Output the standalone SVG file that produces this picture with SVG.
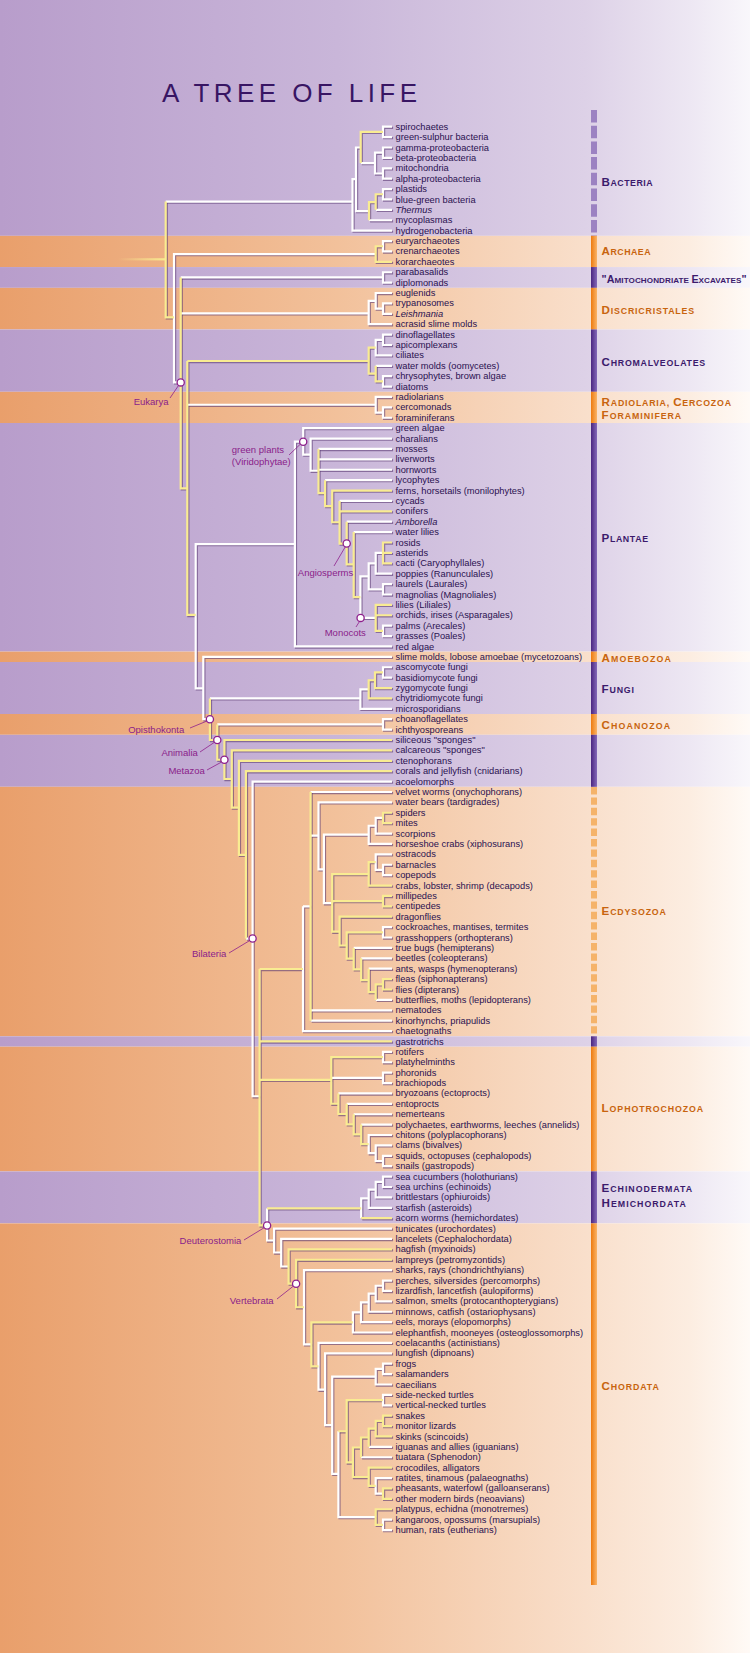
<svg xmlns="http://www.w3.org/2000/svg" xmlns:xlink="http://www.w3.org/1999/xlink" width="750" height="1653" viewBox="0 0 750 1653">
<style>
.lf text{font-family:"Liberation Sans",Arial,sans-serif;font-size:9.3px;fill:#2a1150}
.it{font-style:italic}
.an{font-family:"Liberation Sans",Arial,sans-serif;font-size:9.5px;fill:#8a1d8a}
.sec{font-family:"Liberation Sans",Arial,sans-serif;font-weight:bold;font-size:8.8px}
.sec .b{font-size:11.6px}
.sec.sm{font-size:8.1px}
.sec.sm .b{font-size:10.7px}
.sp{fill:#3b1a6c}
.so{fill:#c8640e}
.ttl{font-family:"Liberation Sans",Arial,sans-serif;font-size:26px;fill:#381563}
.nc{fill:#fff;stroke:#8e1f8c;stroke-width:1.3}
.al{stroke:#8e1f8c;stroke-width:0.8;fill:none}
.bp{fill:url(#gBP)}
.bo{fill:url(#gBO)}
</style>
<defs>
<linearGradient id="gP" gradientUnits="userSpaceOnUse" x1="0" y1="0" x2="750" y2="0">
<stop offset="0" stop-color="#b89dcb"/><stop offset="0.45" stop-color="#c9b6d9"/><stop offset="0.78" stop-color="#ddd1e7"/><stop offset="0.92" stop-color="#ede7f3"/><stop offset="1" stop-color="#f9f7fb"/>
</linearGradient>
<linearGradient id="gO" gradientUnits="userSpaceOnUse" x1="0" y1="0" x2="750" y2="0">
<stop offset="0" stop-color="#e99f6b"/><stop offset="0.45" stop-color="#f2c19b"/><stop offset="0.78" stop-color="#f9dfcb"/><stop offset="0.92" stop-color="#fcede1"/><stop offset="1" stop-color="#fffaf6"/>
</linearGradient>
<linearGradient id="gBP" x1="0" y1="0" x2="1" y2="0"><stop offset="0" stop-color="#4a2580"/><stop offset="1" stop-color="#8468b8"/></linearGradient>
<linearGradient id="gBO" x1="0" y1="0" x2="1" y2="0"><stop offset="0" stop-color="#ee7a0e"/><stop offset="1" stop-color="#f9b468"/></linearGradient>
<linearGradient id="gRoot" gradientUnits="userSpaceOnUse" x1="118" y1="0" x2="166" y2="0"><stop offset="0" stop-color="#f8eb8f" stop-opacity="0"/><stop offset="1" stop-color="#f8eb8f"/></linearGradient>
<g id="W" transform="matrix(1 0 0 10.395 0 116.305)">
<path vector-effect="non-scaling-stroke" d="M165.7 8.2H352.5M375.7 13.25H174V25.6H180.7M180.7 15.5H383M180.7 18.95H368.7M187.3 27.75H375.7M294.9 41.15H195.7V55.03H203.3M392 52H203.3V58H209.9M209.9 56H360.4M217.3 58.5H383M245.9 79.1H252.6M392 64H252.6V94.27H259.6M267.1 105.06V108.15H274.1"/>
<path vector-effect="non-scaling-stroke" d="M392 11H352.5V6.05H356M360.7 3H356V9.125H369M360.7 4.5H375M383 3.5H375V5.5H383M392 3H383V4H392M392 5H383V6H392M392 1H383V2H392M392 10H369M392 9H375.7M392 7H383V8H392"/>
<path vector-effect="non-scaling-stroke" d="M392 12H383V13H392M392 15H383V16H392M392 18H383V19H392M392 17H375.7V18.5H383M375.7 17.75H368.7V20H392M392 21H383V22H392M392 23H375.7V21.5H383M392 24H375.7M392 25H383V26H392M392 27H375.7V28.5H383M392 28H383V29H392"/>
<path vector-effect="non-scaling-stroke" d="M303.2 31.3H294.9V51H392M392 30H303.2V32.55H310.6M392 31H310.6V34.1H318.5M318.5 32H392M318.5 33H392M318.5 34H392M392 35H325.1M392 37H339.6M392 39H346.7M392 40H353.7M368.7 44.25H360.4V48.25H375.7M375.7 43H368.7V45.5H383M383 42H375.7V44H392M392 45H383V46H392M392 49H383V50H392"/>
<path vector-effect="non-scaling-stroke" d="M392 57H360.4V55.125H368.7M392 53H383V54H392M392 58H383V59H392"/>
<path vector-effect="non-scaling-stroke" d="M303 76V88H392M303 76H310.6M392 65H310.6M310.6 86H392M310.6 87H392M392 66H318.5V72.45H323.9M310.6 69.2H318.5M368.7 69.1H323.9V75.7H332.2M392 70H368.7V68.25H375.7M392 69H375.7V67.5H383M392 71H375.7V72.5H383M392 72H383V73H392M392 78H383V79H392M392 80H353.7M392 81H361.2M392 82H368.7M392 85H375.7"/>
<path vector-effect="non-scaling-stroke" d="M331.3 92.5H383M392 90H383V91H392M392 92H383V93H392M392 94H338.4M392 95H346.7M392 96H353.7M392 97H361.2M392 98H368.7V99.75H375.7M392 99H375.7V100.5H383M392 100H383V101H392M392 102H383V103H392M392 104H375.7V102.5H383M392 105H368.7V103.25H375.7M368.7 104.1H361.2V106"/>
<path vector-effect="non-scaling-stroke" d="M392 107H274.1V109.3H281.2M392 108H281.2V110.65H288.6M392 111H304V118.14H311.4M392 117H352.9V115.06H361M392 116H361V114.1H368.7M392 115H368.7V113.25H375.7M392 114H375.7V112.5H383M392 112H383V113H392M392 118H318.5V122.5H325.1M392 119H325.1V125.9H332.2M375.7 121.25H332.2V130.6H338.4M392 122H375.7V120.5H383M392 120H383V121H392M375.7 134.75H338.4V126.5M392 123H383V124H392M392 129H361M392 128H368.7M392 131H375.7V132.5H383M392 135H383V136H392"/>
</g>
<g id="Y" transform="matrix(1 0 0 10.395 0 116.305)">
<path vector-effect="non-scaling-stroke" d="M165.7 8.2V19.34H174M180.7 15.5V35.79H187.3M187.3 23.54V47.97H195.7M187.3 23.54H368.7M209.9 56V60H217.3M217.3 58.5V61.9H224.4M392 60H224.4V63.75H231.8M392 61H231.8V66.5H238.9M392 62H238.9V71.05H245.9M392 63H245.9V79.1M259.6 82.03V106.7H267.1M259.6 82.03H303M259.6 89H392M259.6 92.7H331.3M267.1 105.06H361.2"/>
<path vector-effect="non-scaling-stroke" d="M383 1.5H360.7V4.5M375.7 8.25H369V10M383 7.5H375.7V9M383 12.5H375.7V14H392M383 25.5H375.7V24M375.7 22.25H368.7V24.75H375.7"/>
<path vector-effect="non-scaling-stroke" d="M318.5 32V36.25H325.1M325.1 35V37.5H332.2M392 36H332.2V39.05H339.6M339.6 37V41.1H346.7M339.6 38H392M346.7 39V43.1H353.7M353.7 40V46.25H360.4M392 41H383V43H392M383 42H392M392 47H375.7V49.5H383M375.7 48H392M375 54.25H368.7V56H392M383 53.5H375V55H392"/>
<path vector-effect="non-scaling-stroke" d="M310.6 65V87M392 67H383V68H392M368.7 72.9H332.2V78.44H339.6M332.2 75.5H383M375.7 71.75H368.7V74H392M392 75H383V76H392M392 77H339.6V79.77H346.7M383 78.5H346.7V81.03H353.7M353.7 80V82.06H361.2M361.2 81V83.1H368.7M368.7 82V84.25H375.7M375.7 85V83.5H383M392 83H383V84H392"/>
<path vector-effect="non-scaling-stroke" d="M383 90.5H331.3V94.99H338.4M338.4 94V95.98H346.7M346.7 95V96.97H353.7M353.7 96V97.94H361.2M361.2 97V98.875H368.7M361.2 106H392"/>
<path vector-effect="non-scaling-stroke" d="M392 109H288.6V112.3H296.1M392 110H296.1V114.57H304M352.9 116.03H311.4V120.25H318.5M338.4 126.5H346.7M383 123.5H346.7V129.5H352.9M361 128.06H352.9V130.9H368.7M361 129V127.1H368.7M368.7 128V126.25H375.7M392 127H375.7V125.5H383M392 125H383V126H392M392 130H368.7V131.75H375.7M392 132H383V133H392M392 134H375.7V135.5H383"/>
</g>
</defs>

<g id="background">
<rect x="0" y="0" width="750" height="235.85" fill="url(#gP)"/>
<rect x="0" y="235.85" width="750" height="31.2" fill="url(#gO)"/>
<rect x="0" y="267.05" width="750" height="20.8" fill="url(#gP)"/>
<rect x="0" y="287.85" width="750" height="41.6" fill="url(#gO)"/>
<rect x="0" y="329.45" width="750" height="62.35" fill="url(#gP)"/>
<rect x="0" y="391.8" width="750" height="31.2" fill="url(#gO)"/>
<rect x="0" y="423" width="750" height="228.6" fill="url(#gP)"/>
<rect x="0" y="651.6" width="750" height="10.4" fill="url(#gO)"/>
<rect x="0" y="662" width="750" height="52" fill="url(#gP)"/>
<rect x="0" y="714" width="750" height="20.8" fill="url(#gO)"/>
<rect x="0" y="734.8" width="750" height="52" fill="url(#gP)"/>
<rect x="0" y="786.8" width="750" height="249.5" fill="url(#gO)"/>
<rect x="0" y="1036.3" width="750" height="10.4" fill="url(#gP)"/>
<rect x="0" y="1046.7" width="750" height="124.7" fill="url(#gO)"/>
<rect x="0" y="1171.4" width="750" height="52" fill="url(#gP)"/>
<rect x="0" y="1223.4" width="750" height="429.6" fill="url(#gO)"/>
</g>

<g id="title"><text class="ttl" x="162" y="101.7" textLength="255" lengthAdjust="spacing">A TREE OF LIFE</text></g>

<g id="bars">
<line x1="594" y1="110" x2="594" y2="236" stroke="#9c82c2" stroke-width="6" stroke-dasharray="12.5 3.2"/>
<rect class="bo" x="591" y="235.85" width="6" height="31.2"/>
<rect class="bp" x="591" y="267.05" width="6" height="20.8"/>
<rect class="bo" x="591" y="287.85" width="6" height="41.6"/>
<rect class="bp" x="591" y="329.45" width="6" height="62.35"/>
<rect class="bo" x="591" y="391.8" width="6" height="31.2"/>
<rect class="bp" x="591" y="423" width="6" height="228.6"/>
<rect class="bo" x="591" y="651.6" width="6" height="10.4"/>
<rect class="bp" x="591" y="662" width="6" height="52"/>
<rect class="bo" x="591" y="714" width="6" height="20.8"/>
<rect class="bp" x="591" y="734.8" width="6" height="52"/>
<line x1="594" y1="787" x2="594" y2="1036.3" stroke="#f5b36a" stroke-width="6" stroke-dasharray="7.4 3"/>
<rect class="bp" x="591" y="1036.3" width="6" height="10.4"/>
<rect class="bo" x="591" y="1046.7" width="6" height="124.7"/>
<rect class="bp" x="591" y="1171.4" width="6" height="52"/>
<rect class="bo" x="591" y="1223.4" width="6" height="361.6"/>
</g>

<g id="connectors" fill="none" stroke-linejoin="miter">
<rect x="118" y="258.2" width="48" height="2.2" fill="url(#gRoot)"/>
<g transform="translate(1.1,1.1)" stroke="#5a3873" stroke-opacity="0.6" stroke-width="2.2">
<use xlink:href="#W" href="#W"/>
<use xlink:href="#Y" href="#Y"/>
</g>
<use xlink:href="#W" href="#W" stroke="#ffffff" stroke-width="2.2"/>
<use xlink:href="#Y" href="#Y" stroke="#f9ec92" stroke-width="2.2"/>
</g>

<g id="clade-markers">
<g id="n-eukarya"><line class="al" x1="170" y1="398" x2="178.5" y2="385.5"/><circle class="nc" cx="180.7" cy="382.4" r="3.6"/><text class="an" x="168.5" y="405" text-anchor="end">Eukarya</text></g>
<g id="n-greenplants"><line class="al" x1="289" y1="455" x2="300.5" y2="444"/><circle class="nc" cx="303.2" cy="441.7" r="3.6"/><text class="an" x="231.8" y="453.3">green plants</text><text class="an" x="231.8" y="465">(Viridophytae)</text></g>
<g id="n-angiosperms"><line class="al" x1="334" y1="566" x2="345.3" y2="546.8"/><circle class="nc" cx="346.7" cy="543.5" r="3.6"/><text class="an" x="297.8" y="575.6">Angiosperms</text></g>
<g id="n-monocots"><line class="al" x1="356" y1="627" x2="359.6" y2="621.3"/><circle class="nc" cx="360.6" cy="617.9" r="3.6"/><text class="an" x="324.7" y="636">Monocots</text></g>
<g id="n-opisthokonta"><line class="al" x1="190" y1="728" x2="207" y2="721"/><circle class="nc" cx="209.9" cy="719.2" r="3.6"/><text class="an" x="128.2" y="732.6">Opisthokonta</text></g>
<g id="n-animalia"><line class="al" x1="200" y1="752" x2="214.6" y2="742.2"/><circle class="nc" cx="217.3" cy="740" r="3.6"/><text class="an" x="161.4" y="756">Animalia</text></g>
<g id="n-metazoa"><line class="al" x1="207" y1="770" x2="221.6" y2="762"/><circle class="nc" cx="224.4" cy="759.8" r="3.6"/><text class="an" x="168.4" y="774">Metazoa</text></g>
<g id="n-bilateria"><line class="al" x1="229" y1="953" x2="249.8" y2="940.5"/><circle class="nc" cx="252.6" cy="938.5" r="3.6"/><text class="an" x="192" y="957.3">Bilateria</text></g>
<g id="n-deuterostomia"><line class="al" x1="244" y1="1240" x2="264.4" y2="1227.6"/><circle class="nc" cx="267.1" cy="1225.5" r="3.6"/><text class="an" x="179.6" y="1244.3">Deuterostomia</text></g>
<g id="n-vertebrata"><line class="al" x1="277" y1="1299" x2="293.5" y2="1286"/><circle class="nc" cx="296.1" cy="1283.7" r="3.6"/><text class="an" x="229.8" y="1304.3">Vertebrata</text></g>
</g>

<g id="sections">
<text class="sec sp" x="601.6" y="185.8" textLength="51" lengthAdjust="spacing"><tspan class="b">B</tspan>ACTERIA</text>
<text class="sec so" x="601.6" y="255.3" textLength="49" lengthAdjust="spacing"><tspan class="b">A</tspan>RCHAEA</text>
<text class="sec sm sp" x="601.6" y="283" textLength="145" lengthAdjust="spacing"><tspan class="b">"A</tspan>MITOCHONDRIATE <tspan class="b">E</tspan>XCAVATES<tspan class="b">"</tspan></text>
<text class="sec so" x="601.6" y="314.1" textLength="92.5" lengthAdjust="spacing"><tspan class="b">D</tspan>ISCRICRISTALES</text>
<text class="sec sp" x="601.6" y="365.8" textLength="103.6" lengthAdjust="spacing"><tspan class="b">C</tspan>HROMALVEOLATES</text>
<text class="sec so" x="601.6" y="406.4" textLength="129.4" lengthAdjust="spacing"><tspan class="b">R</tspan>ADIOLARIA, <tspan class="b">C</tspan>ERCOZOA</text>
<text class="sec so" x="601.6" y="418.8" textLength="79.6" lengthAdjust="spacing"><tspan class="b">F</tspan>ORAMINIFERA</text>
<text class="sec sp" x="601.6" y="542.1" textLength="46.4" lengthAdjust="spacing"><tspan class="b">P</tspan>LANTAE</text>
<text class="sec so" x="601.6" y="662.4" textLength="69.2" lengthAdjust="spacing"><tspan class="b">A</tspan>MOEBOZOA</text>
<text class="sec sp" x="601.6" y="693.4" textLength="32.3" lengthAdjust="spacing"><tspan class="b">F</tspan>UNGI</text>
<text class="sec so" x="601.6" y="729.1" textLength="68.4" lengthAdjust="spacing"><tspan class="b">C</tspan>HOANOZOA</text>
<text class="sec so" x="601.6" y="914.8" textLength="64.3" lengthAdjust="spacing"><tspan class="b">E</tspan>CDYSOZOA</text>
<text class="sec so" x="601.6" y="1111.8" textLength="101.6" lengthAdjust="spacing"><tspan class="b">L</tspan>OPHOTROCHOZOA</text>
<text class="sec sp" x="601.6" y="1192.4" textLength="90.4" lengthAdjust="spacing"><tspan class="b">E</tspan>CHINODERMATA</text>
<text class="sec sp" x="601.6" y="1207.4" textLength="84.2" lengthAdjust="spacing"><tspan class="b">H</tspan>EMICHORDATA</text>
<text class="sec so" x="601.6" y="1390.1" textLength="57.2" lengthAdjust="spacing"><tspan class="b">C</tspan>HORDATA</text>
</g>

<g id="leaves" class="lf">
<g id="leaves-bacteria">
<text x="395.5" y="129.7">spirochaetes</text>
<text x="395.5" y="140.1">green-sulphur bacteria</text>
<text x="395.5" y="150.5">gamma-proteobacteria</text>
<text x="395.5" y="160.9">beta-proteobacteria</text>
<text x="395.5" y="171.3">mitochondria</text>
<text x="395.5" y="181.7">alpha-proteobacteria</text>
<text x="395.5" y="192.1">plastids</text>
<text x="395.5" y="202.5">blue-green bacteria</text>
<text x="395.5" y="212.9" class="it">Thermus</text>
<text x="395.5" y="223.3">mycoplasmas</text>
<text x="395.5" y="233.6">hydrogenobacteria</text>
</g>
<g id="leaves-archaea">
<text x="395.5" y="244">euryarchaeotes</text>
<text x="395.5" y="254.4">crenarchaeotes</text>
<text x="395.5" y="264.8">korarchaeotes</text>
</g>
<g id="leaves-excavates">
<text x="395.5" y="275.2">parabasalids</text>
<text x="395.5" y="285.6">diplomonads</text>
</g>
<g id="leaves-discricristales">
<text x="395.5" y="296">euglenids</text>
<text x="395.5" y="306.4">trypanosomes</text>
<text x="395.5" y="316.8" class="it">Leishmania</text>
<text x="395.5" y="327.2">acrasid slime molds</text>
</g>
<g id="leaves-chromalveolates">
<text x="395.5" y="337.6">dinoflagellates</text>
<text x="395.5" y="348">apicomplexans</text>
<text x="395.5" y="358.4">ciliates</text>
<text x="395.5" y="368.8">water molds (oomycetes)</text>
<text x="395.5" y="379.2">chrysophytes, brown algae</text>
<text x="395.5" y="389.6">diatoms</text>
</g>
<g id="leaves-radiolaria">
<text x="395.5" y="400">radiolarians</text>
<text x="395.5" y="410.4">cercomonads</text>
<text x="395.5" y="420.8">foraminiferans</text>
</g>
<g id="leaves-plantae">
<text x="395.5" y="431.2">green algae</text>
<text x="395.5" y="441.5">charalians</text>
<text x="395.5" y="451.9">mosses</text>
<text x="395.5" y="462.3">liverworts</text>
<text x="395.5" y="472.7">hornworts</text>
<text x="395.5" y="483.1">lycophytes</text>
<text x="395.5" y="493.5">ferns, horsetails (monilophytes)</text>
<text x="395.5" y="503.9">cycads</text>
<text x="395.5" y="514.3">conifers</text>
<text x="395.5" y="524.7" class="it">Amborella</text>
<text x="395.5" y="535.1">water lilies</text>
<text x="395.5" y="545.5">rosids</text>
<text x="395.5" y="555.9">asterids</text>
<text x="395.5" y="566.3">cacti (Caryophyllales)</text>
<text x="395.5" y="576.7">poppies (Ranunculales)</text>
<text x="395.5" y="587.1">laurels (Laurales)</text>
<text x="395.5" y="597.5">magnolias (Magnoliales)</text>
<text x="395.5" y="607.9">lilies (Liliales)</text>
<text x="395.5" y="618.3">orchids, irises (Asparagales)</text>
<text x="395.5" y="628.7">palms (Arecales)</text>
<text x="395.5" y="639.1">grasses (Poales)</text>
<text x="395.5" y="649.5">red algae</text>
</g>
<g id="leaves-amoebozoa">
<text x="395.5" y="659.8">slime molds, lobose amoebae (mycetozoans)</text>
</g>
<g id="leaves-fungi">
<text x="395.5" y="670.2">ascomycote fungi</text>
<text x="395.5" y="680.6">basidiomycote fungi</text>
<text x="395.5" y="691">zygomycote fungi</text>
<text x="395.5" y="701.4">chytridiomycote fungi</text>
<text x="395.5" y="711.8">microsporidians</text>
</g>
<g id="leaves-choanozoa">
<text x="395.5" y="722.2">choanoflagellates</text>
<text x="395.5" y="732.6">ichthyosporeans</text>
</g>
<g id="leaves-basal-animals">
<text x="395.5" y="743">siliceous "sponges"</text>
<text x="395.5" y="753.4">calcareous "sponges"</text>
<text x="395.5" y="763.8">ctenophorans</text>
<text x="395.5" y="774.2">corals and jellyfish (cnidarians)</text>
<text x="395.5" y="784.6">acoelomorphs</text>
</g>
<g id="leaves-ecdysozoa">
<text x="395.5" y="795">velvet worms (onychophorans)</text>
<text x="395.5" y="805.4">water bears (tardigrades)</text>
<text x="395.5" y="815.8">spiders</text>
<text x="395.5" y="826.2">mites</text>
<text x="395.5" y="836.6">scorpions</text>
<text x="395.5" y="847">horseshoe crabs (xiphosurans)</text>
<text x="395.5" y="857.3">ostracods</text>
<text x="395.5" y="867.7">barnacles</text>
<text x="395.5" y="878.1">copepods</text>
<text x="395.5" y="888.5">crabs, lobster, shrimp (decapods)</text>
<text x="395.5" y="898.9">millipedes</text>
<text x="395.5" y="909.3">centipedes</text>
<text x="395.5" y="919.7">dragonflies</text>
<text x="395.5" y="930.1">cockroaches, mantises, termites</text>
<text x="395.5" y="940.5">grasshoppers (orthopterans)</text>
<text x="395.5" y="950.9">true bugs (hemipterans)</text>
<text x="395.5" y="961.3">beetles (coleopterans)</text>
<text x="395.5" y="971.7">ants, wasps (hymenopterans)</text>
<text x="395.5" y="982.1">fleas (siphonapterans)</text>
<text x="395.5" y="992.5">flies (dipterans)</text>
<text x="395.5" y="1002.9">butterflies, moths (lepidopterans)</text>
<text x="395.5" y="1013.3">nematodes</text>
<text x="395.5" y="1023.7">kinorhynchs, priapulids</text>
<text x="395.5" y="1034.1">chaetognaths</text>
</g>
<g id="leaves-gastrotrichs">
<text x="395.5" y="1044.5">gastrotrichs</text>
</g>
<g id="leaves-lophotrochozoa">
<text x="395.5" y="1054.9">rotifers</text>
<text x="395.5" y="1065.2">platyhelminths</text>
<text x="395.5" y="1075.6">phoronids</text>
<text x="395.5" y="1086">brachiopods</text>
<text x="395.5" y="1096.4">bryozoans (ectoprocts)</text>
<text x="395.5" y="1106.8">entoprocts</text>
<text x="395.5" y="1117.2">nemerteans</text>
<text x="395.5" y="1127.6">polychaetes, earthworms, leeches (annelids)</text>
<text x="395.5" y="1138">chitons (polyplacophorans)</text>
<text x="395.5" y="1148.4">clams (bivalves)</text>
<text x="395.5" y="1158.8">squids, octopuses (cephalopods)</text>
<text x="395.5" y="1169.2">snails (gastropods)</text>
</g>
<g id="leaves-ambulacraria">
<text x="395.5" y="1179.6">sea cucumbers (holothurians)</text>
<text x="395.5" y="1190">sea urchins (echinoids)</text>
<text x="395.5" y="1200.4">brittlestars (ophiuroids)</text>
<text x="395.5" y="1210.8">starfish (asteroids)</text>
<text x="395.5" y="1221.2">acorn worms (hemichordates)</text>
</g>
<g id="leaves-chordata">
<text x="395.5" y="1231.6">tunicates (urochordates)</text>
<text x="395.5" y="1242">lancelets (Cephalochordata)</text>
<text x="395.5" y="1252.3">hagfish (myxinoids)</text>
<text x="395.5" y="1262.7">lampreys (petromyzontids)</text>
<text x="395.5" y="1273.1">sharks, rays (chondrichthyians)</text>
<text x="395.5" y="1283.5">perches, silversides (percomorphs)</text>
<text x="395.5" y="1293.9">lizardfish, lancetfish (aulopiforms)</text>
<text x="395.5" y="1304.3">salmon, smelts (protocanthopterygians)</text>
<text x="395.5" y="1314.7">minnows, catfish (ostariophysans)</text>
<text x="395.5" y="1325.1">eels, morays (elopomorphs)</text>
<text x="395.5" y="1335.5">elephantfish, mooneyes (osteoglossomorphs)</text>
<text x="395.5" y="1345.9">coelacanths (actinistians)</text>
<text x="395.5" y="1356.3">lungfish (dipnoans)</text>
<text x="395.5" y="1366.7">frogs</text>
<text x="395.5" y="1377.1">salamanders</text>
<text x="395.5" y="1387.5">caecilians</text>
<text x="395.5" y="1397.9">side-necked turtles</text>
<text x="395.5" y="1408.3">vertical-necked turtles</text>
<text x="395.5" y="1418.7">snakes</text>
<text x="395.5" y="1429.1">monitor lizards</text>
<text x="395.5" y="1439.5">skinks (scincoids)</text>
<text x="395.5" y="1449.8">iguanas and allies (iguanians)</text>
<text x="395.5" y="1460.2">tuatara (Sphenodon)</text>
<text x="395.5" y="1470.6">crocodiles, alligators</text>
<text x="395.5" y="1481">ratites, tinamous (palaeognaths)</text>
<text x="395.5" y="1491.4">pheasants, waterfowl (galloanserans)</text>
<text x="395.5" y="1501.8">other modern birds (neoavians)</text>
<text x="395.5" y="1512.2">platypus, echidna (monotremes)</text>
<text x="395.5" y="1522.6">kangaroos, opossums (marsupials)</text>
<text x="395.5" y="1533">human, rats (eutherians)</text>
</g>
</g>
</svg>
